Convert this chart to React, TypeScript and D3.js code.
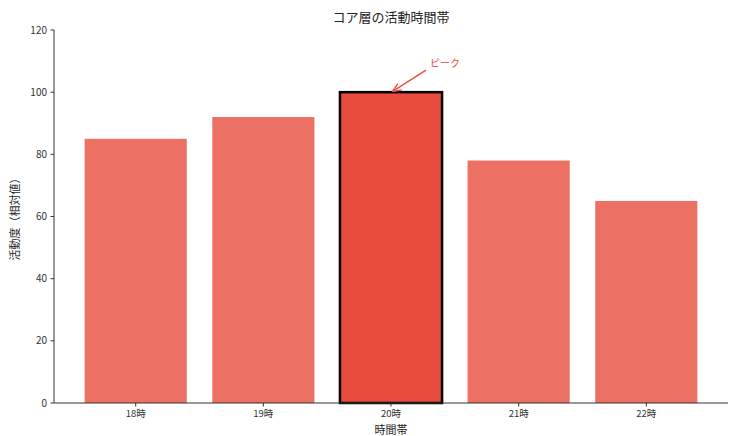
import React from "react";
import * as d3 from "d3";

const categories = ["18時", "19時", "20時", "21時", "22時"];
const values = [85, 92, 100, 78, 65];
const yTicks = [0, 20, 40, 60, 80, 100, 120];
const peakIndex = 2;

export default function App() {
  const W = 729, H = 436;
  const left = 54, right = 728, top = 30, bottom = 403;
  const font = "'Noto Sans CJK JP', 'Noto Sans', sans-serif";
  const x = d3.scaleLinear().domain([-0.64, 4.64]).range([left, right]);
  const y = d3.scaleLinear().domain([0, 120]).range([bottom, top]);
  const bw = x(0.4) - x(-0.4);
  const px = x(peakIndex);
  const py = y(values[peakIndex]);
  return (
    <svg width={W} height={H} style={{ position: "absolute", left: 0, top: 0 }} fontFamily={font}>
      <defs>
        <marker id="ah" viewBox="0 0 10 10" refX="9" refY="5" markerWidth="7" markerHeight="7" orient="auto-start-reverse">
          <path d="M0,1 L10,5 L0,9" fill="none" stroke="#e74c3c" strokeWidth="1.5" />
        </marker>
      </defs>
      <text x={(left + right) / 2} y={22} textAnchor="middle" fontSize={13} fill="#222">コア層の活動時間帯</text>
      {values.map((v, i) => (
        <rect
          key={i}
          x={x(i) - bw / 2}
          y={y(v)}
          width={bw}
          height={y(0) - y(v)}
          fill={i === peakIndex ? "#e74c3c" : "#ec7063"}
          stroke={i === peakIndex ? "#000" : "none"}
          strokeWidth={i === peakIndex ? 2.5 : 0}
        />
      ))}
      <line x1={left} x2={left} y1={top} y2={bottom} stroke="#333" strokeWidth={1} />
      <line x1={left} x2={right} y1={bottom} y2={bottom} stroke="#333" strokeWidth={1} />
      {yTicks.map((t) => (
        <g key={t}>
          <line x1={left - 3.5} x2={left} y1={y(t)} y2={y(t)} stroke="#333" />
          <text x={left - 7} y={y(t) + 3.5} textAnchor="end" fontSize={10} fill="#333">{t}</text>
        </g>
      ))}
      {categories.map((c, i) => (
        <g key={c}>
          <line x1={x(i)} x2={x(i)} y1={bottom} y2={bottom + 3.5} stroke="#333" />
          <text x={x(i)} y={bottom + 13.5} textAnchor="middle" fontSize={9.5} fill="#333">{c}</text>
        </g>
      ))}
      <text x={(left + right) / 2} y={434} textAnchor="middle" fontSize={11} fill="#222">時間帯</text>
      <text transform={`translate(19, ${(top + bottom) / 2}) rotate(-90)`} textAnchor="middle" fontSize={11} fill="#222">活動度（相対値）</text>
      <line x1={px + 35} y1={py - 22} x2={px + 2} y2={py - 1} stroke="#e74c3c" strokeWidth={1.3} markerEnd="url(#ah)" />
      <text x={px + 39} y={py - 25} fontSize={10} fill="#e74c3c">ピーク</text>
    </svg>
  );
}
